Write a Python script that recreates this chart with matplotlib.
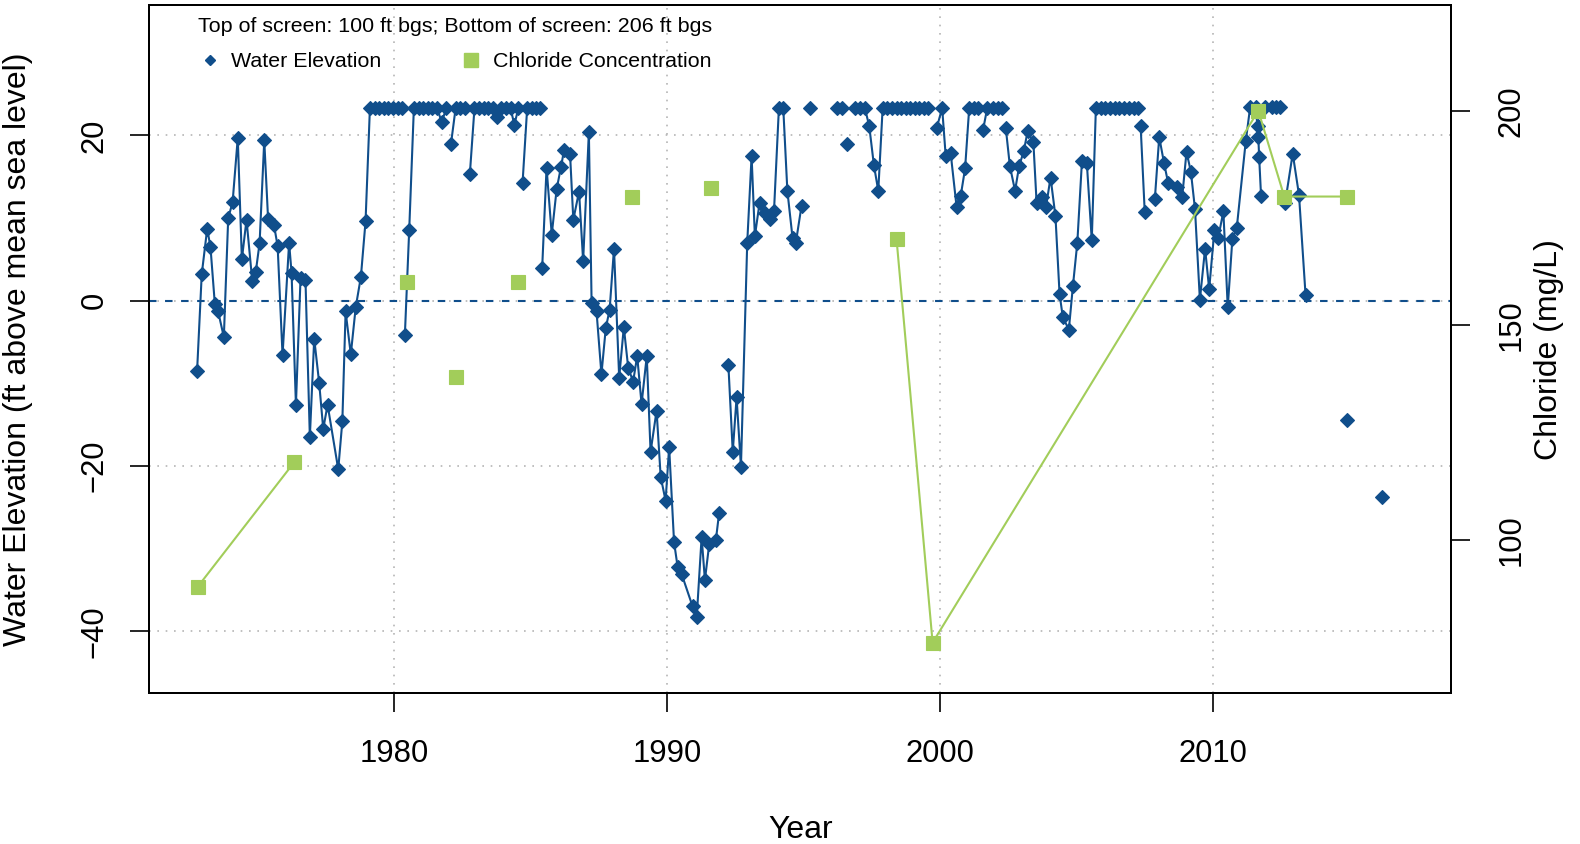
import numpy as np
import matplotlib
matplotlib.use('Agg')
import matplotlib.pyplot as plt
from matplotlib.lines import Line2D

plt.rcParams['font.family'] = ['Liberation Sans', 'DejaVu Sans']

nan = np.nan

# water elevation (ft above msl), nan = gap in the record
water_year = [
    1972.78, 1972.95, 1973.15, 1973.27, 1973.43, 1973.55, 1973.76, 1973.92, 1974.08, 1974.27,
    1974.42, 1974.59, 1974.80, 1974.93, 1975.07, 1975.24, 1975.38, 1975.60, 1975.73, 1975.91,
    1976.15, 1976.24, 1976.40, 1976.57, 1976.75, 1976.91, 1977.07, 1977.25, 1977.40, 1977.56,
    1977.95, 1978.10, 1978.22, 1978.41, 1978.59, 1978.78, 1978.95, 1979.11, 1979.28, 1979.45,
    1979.62, 1979.79, 1979.96, 1980.13, 1980.30, nan,
    1980.39, 1980.55, 1980.72, 1980.89, 1981.06, 1981.23, 1981.40, 1981.57, 1981.74, 1981.91, nan,
    1982.08, 1982.25, 1982.42, 1982.59, nan,
    1982.77, 1982.94, 1983.11, 1983.28, 1983.45, 1983.62, 1983.75, 1983.92, 1984.09, 1984.26,
    1984.40, 1984.55, nan,
    1984.70, 1984.87, 1985.04, 1985.21, 1985.34, nan,
    1985.42, 1985.58, 1985.77, 1985.95, 1986.11, 1986.22, 1986.44, 1986.56, 1986.77, 1986.92,
    1987.13, 1987.23, 1987.41, 1987.59, 1987.75, 1987.89, 1988.05, 1988.24, 1988.41, 1988.57,
    1988.75, 1988.90, 1989.06, 1989.25, 1989.39, 1989.61, 1989.76, 1989.94, 1990.07, 1990.25,
    1990.38, 1990.53, 1990.93, 1991.08, 1991.26, 1991.38, 1991.54, 1991.78, 1991.90, nan,
    1992.24, 1992.40, 1992.54, 1992.70, 1992.93, 1993.09, 1993.21, 1993.38, 1993.58, 1993.76,
    1993.91, 1994.09, 1994.25, 1994.40, 1994.59, 1994.71, 1994.92, nan,
    1995.22, nan,
    1996.20, 1996.39, nan,
    1996.57, nan,
    1996.88, 1997.06, 1997.24, 1997.40, 1997.57, 1997.73, 1997.89, 1998.06, 1998.23, 1998.40,
    1998.57, 1998.73, 1998.90, 1999.07, 1999.23, 1999.40, 1999.56, nan,
    1999.87, 2000.07, 2000.20, 2000.38, 2000.60, 2000.75, 2000.91, 2001.06, 2001.23, 2001.40, nan,
    2001.57, 2001.72, 2001.94, 2002.12, 2002.25, nan,
    2002.40, 2002.55, 2002.74, 2002.89, 2003.06, 2003.20, 2003.41, 2003.53, 2003.71, 2003.87,
    2004.04, 2004.22, 2004.37, 2004.49, 2004.71, 2004.86, 2005.02, 2005.19, 2005.37, 2005.55,
    2005.70, 2005.87, 2006.04, 2006.22, 2006.39, 2006.56, 2006.73, 2006.90, 2007.08, 2007.25, nan,
    2007.34, 2007.49, nan,
    2007.86, 2008.02, 2008.20, 2008.35, 2008.66, 2008.86, 2009.02, 2009.18, 2009.33, 2009.51,
    2009.70, 2009.85, 2010.04, 2010.18, 2010.37, 2010.53, 2010.70, 2010.86, 2011.19, 2011.35,
    2011.55, 2011.62, 2011.65, 2011.68, 2011.75, nan,
    2011.89, 2012.14, 2012.29, 2012.44, nan,
    2012.63, 2012.91, 2013.14, 2013.38, nan,
    2014.88, nan,
    2016.19,
]
water_elev = [
    -8.5, 3.2, 8.7, 6.5, -0.4, -1.3, -4.4, 10.0, 11.9, 19.7,
    5.0, 9.8, 2.4, 3.5, 7.0, 19.4, 9.9, 9.1, 6.6, -6.6,
    7.0, 3.4, -12.6, 2.8, 2.5, -16.5, -4.6, -9.9, -15.5, -12.6,
    -20.4, -14.6, -1.3, -6.5, -0.8, 2.9, 9.6, 23.3, 23.3, 23.3,
    23.3, 23.3, 23.3, 23.3, 23.3, nan,
    -4.2, 8.6, 23.3, 23.3, 23.3, 23.3, 23.3, 23.3, 21.6, 23.3, nan,
    19.0, 23.3, 23.3, 23.3, nan,
    15.3, 23.3, 23.3, 23.3, 23.3, 23.3, 22.2, 23.3, 23.3, 23.3,
    21.3, 23.3, nan,
    14.2, 23.3, 23.3, 23.3, 23.3, nan,
    4.0, 16.1, 8.0, 13.5, 16.2, 18.2, 17.8, 9.8, 13.2, 4.8,
    20.4, -0.3, -1.3, -8.9, -3.3, -1.1, 6.3, -9.3, -3.2, -8.1,
    -9.8, -6.7, -12.5, -6.7, -18.3, -13.3, -21.3, -24.2, -17.7, -29.2,
    -32.2, -33.1, -37.0, -38.3, -28.6, -33.8, -29.4, -29.0, -25.7, nan,
    -7.8, -18.3, -11.7, -20.1, 7.0, 17.5, 7.8, 11.8, 10.6, 9.9,
    10.8, 23.3, 23.3, 13.3, 7.6, 7.0, 11.5, nan,
    23.3, nan,
    23.3, 23.3, nan,
    19.0, nan,
    23.3, 23.3, 23.3, 21.1, 16.4, 13.3, 23.3, 23.3, 23.3, 23.3,
    23.3, 23.3, 23.3, 23.3, 23.3, 23.3, 23.3, nan,
    20.9, 23.3, 17.5, 17.9, 11.3, 12.7, 16.0, 23.3, 23.3, 23.3, nan,
    20.7, 23.3, 23.3, 23.3, 23.3, nan,
    20.9, 16.3, 13.3, 16.3, 18.1, 20.5, 19.2, 11.8, 12.5, 11.3,
    14.9, 10.2, 0.8, -2.0, -3.5, 1.8, 7.0, 16.9, 16.6, 7.3,
    23.3, 23.3, 23.3, 23.3, 23.3, 23.3, 23.3, 23.3, 23.3, 23.3, nan,
    21.1, 10.7, nan,
    12.3, 19.8, 16.6, 14.2, 13.8, 12.5, 18.0, 15.6, 11.1, 0.1,
    6.3, 1.4, 8.5, 7.6, 10.8, -0.8, 7.5, 8.8, 19.3, 23.4,
    23.4, 21.1, 19.8, 17.4, 12.7, nan,
    23.4, 23.4, 23.4, 23.4, nan,
    11.8, 17.8, 12.8, 0.7, nan,
    -14.4, nan,
    -23.8,
]

# chloride (mg/L)
cl_year = [1972.80, 1976.33, nan, 1980.48, nan, 1982.28, nan, 1984.54, nan, 1988.72, nan,
           1991.59, nan, 1998.40, 1999.72, 2011.65, 2012.60, 2014.91]
cl_conc = [89, 118, nan, 160, nan, 138, nan, 160, nan, 180, nan,
           182, nan, 170, 76, 200, 180, 180]

blue = '#104E8B'
green = '#A2CD5A'

fig = plt.figure(figsize=(15.8, 8.44), dpi=100)
ax = fig.add_axes([0.0945, 0.1786, 0.8239, 0.8155])
ax2 = ax.twinx()

ax.set_xlim(1971.03, 2018.71)
ax.set_ylim(-47.5, 35.78)
ax2.set_ylim(64.2, 224.66)

ax.set_xticks([1980, 1990, 2000, 2010])
ax.set_yticks([-40, -20, 0, 20])
ax2.set_yticks([100, 150, 200])

ax.grid(True, color='#b5b5b5', linestyle=(0, (1, 4)), linewidth=1.2)
ax.axhline(0, color=blue, linewidth=1.5, linestyle=(0, (3.6, 4.1)), zorder=2)

ax.plot(water_year, water_elev, color=blue, linewidth=1.5, marker='D',
        markersize=7.3, markeredgewidth=0.8, zorder=3)
ax2.plot(cl_year, cl_conc, color=green, linewidth=1.5, marker='s',
         markersize=10, markeredgewidth=0.8, zorder=3)

for a in (ax, ax2):
    for s in a.spines.values():
        s.set_linewidth(1.4)
ax.tick_params(axis='both', direction='out', length=14, width=1.2, labelsize=22.3)
ax.tick_params(axis='x', pad=19)
ax.tick_params(axis='y', pad=14.5)
ax2.tick_params(axis='y', direction='out', length=14, width=1.2, labelsize=22.3, pad=19)
plt.setp(ax.get_yticklabels(), rotation=90, va='center')
plt.setp(ax2.get_yticklabels(), rotation=90, va='center')

ax.set_xlabel('Year', fontsize=23, va='center')
ax.xaxis.set_label_coords(0.5, -0.199)
ax.set_ylabel('Water Elevation (ft above mean sea level)', fontsize=23, va='center')
ax.yaxis.set_label_coords(-0.1010, 0.5)
ax2.set_ylabel('Chloride (mg/L)', fontsize=23, va='center', rotation=90)
ax2.yaxis.set_label_coords(1.0755, 0.5)

handles = [Line2D([], [], marker='D', linestyle='none', color=blue, markersize=5),
           Line2D([], [], marker='s', linestyle='none', color=green, markersize=9.5)]
ax2.legend(handles, ['Water Elevation', 'Chloride Concentration'], ncol=2,
           title='Top of screen: 100 ft bgs; Bottom of screen: 206 ft bgs',
           frameon=False, loc='upper center',
           bbox_to_anchor=(455 / 1580, 1 - 17 / 844), bbox_transform=fig.transFigure,
           fontsize=15.4, title_fontsize=15.4, handlelength=1.0, handletextpad=0.5,
           columnspacing=3.7, borderpad=0, borderaxespad=0, labelspacing=0.75)

fig.savefig('out.png', dpi=100)
